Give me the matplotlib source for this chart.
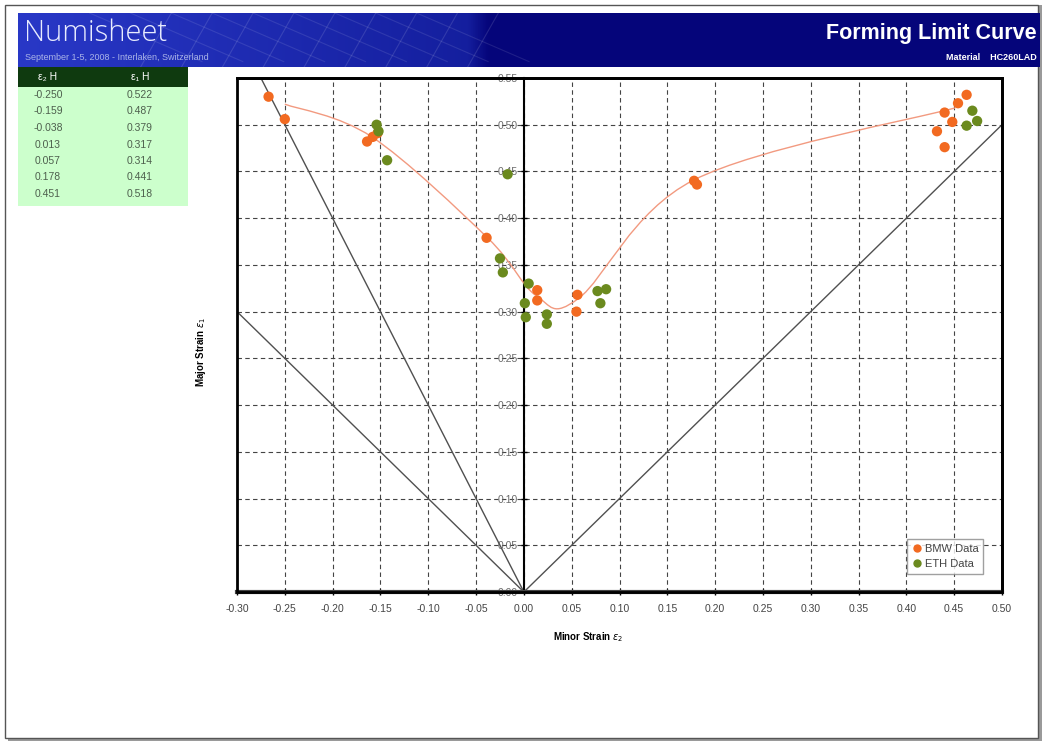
import matplotlib
matplotlib.use('Agg')
import matplotlib.pyplot as plt
import numpy as np
from matplotlib.path import Path
from matplotlib.patches import PathPatch, Rectangle
from matplotlib.lines import Line2D

plt.rcParams['font.family'] = ['Liberation Sans', 'DejaVu Sans']
NARROW = ['Liberation Sans Narrow', 'Liberation Sans', 'DejaVu Sans']

# Forming limit curve (table values)
flc_minor = [-0.250, -0.159, -0.038, 0.013, 0.057, 0.178, 0.451]
flc_major = [0.522, 0.487, 0.379, 0.317, 0.314, 0.441, 0.518]

# BMW measurements
bmw_minor = [-0.267, -0.250, -0.164, -0.158, -0.153, -0.039, 0.014, 0.014,
             0.056, 0.055, 0.178, 0.181, 0.463, 0.454, 0.440, 0.448, 0.432, 0.440]
bmw_major = [0.530, 0.506, 0.482, 0.487, 0.491, 0.379, 0.323, 0.312,
             0.318, 0.300, 0.440, 0.436, 0.532, 0.523, 0.513, 0.503, 0.493, 0.476]

# ETH measurements
eth_minor = [-0.154, -0.152, -0.143, -0.017, -0.025, -0.022, 0.005, 0.001, 0.002,
             0.024, 0.024, 0.077, 0.086, 0.080, 0.469, 0.474, 0.463]
eth_major = [0.500, 0.493, 0.462, 0.447, 0.357, 0.342, 0.330, 0.309, 0.294,
             0.297, 0.287, 0.322, 0.324, 0.309, 0.515, 0.504, 0.499]

# strain path reference lines (major = slope * minor)
ref_slopes = [-1.0, -2.0, 1.0]

x_ticks = np.round(np.arange(-0.30, 0.501, 0.05), 2)
y_ticks = np.round(np.arange(0.0, 0.551, 0.05), 2)


def fmt(v):
    return f'{abs(v):.2f}' if abs(v) < 1e-9 else f'{v:.2f}'


W, H = 1045, 747
fig = plt.figure(figsize=(W / 100, H / 100), dpi=100)
fig.patch.set_facecolor('white')


def fx(px):
    return px / W


def fy(py):
    return 1 - py / H


# page frame with shadow
fig.add_artist(Rectangle((fx(8), fy(741)), fx(1034), 736 / H, transform=fig.transFigure,
                         facecolor='#9a9a9a', edgecolor='none', zorder=0))
fig.add_artist(Rectangle((fx(5), fy(738)), fx(1033), 733 / H, transform=fig.transFigure,
                         facecolor='white', edgecolor='#555555', lw=1.0, zorder=0))

# header banner
ban = fig.add_axes([fx(18), fy(67), fx(1022), 54 / H])
n = 400
t = np.linspace(0, 1, n)
left = np.array([0.16, 0.22, 0.78])
mid = np.array([0.08, 0.12, 0.62])
right = np.array([0.02, 0.02, 0.48])
cols = np.zeros((n, 3))
for i, v in enumerate(t):
    if v < 0.44:
        cols[i] = left + (mid - left) * v / 0.44
    elif v < 0.46:
        cols[i] = mid + (right - mid) * (v - 0.44) / 0.02
    else:
        cols[i] = right
ban.imshow(cols[np.newaxis, :, :], aspect='auto', extent=[0, 1, 0, 1])
for k in np.linspace(0.12, 0.44, 9):
    ban.plot([k, k + 0.03], [0, 1], color='white', alpha=0.12, lw=0.8)
    ban.plot([k - 0.05, k + 0.06], [1, 0.1], color='white', alpha=0.10, lw=0.8)
ban.set_xlim(0, 1)
ban.set_ylim(0, 1)
ban.axis('off')

fig.text(fx(24), fy(33), 'Numisheet', color='#e8ecff', fontsize=21, va='center', ha='left',
         family=['Open Sans', 'DejaVu Sans'], fontweight='light')
fig.text(fx(25), fy(57), 'September 1-5, 2008 - Interlaken, Switzerland', color='#aab4e8',
         fontsize=6.5, va='center', ha='left')
fig.text(fx(1037), fy(34), 'Forming Limit Curve', color='white', fontsize=15.5,
         fontweight='bold', va='center', ha='right')
fig.text(fx(1037), fy(58), 'Material    HC260LAD', color='white', fontsize=6.5,
         fontweight='bold', va='center', ha='right')

# FLC table
fig.add_artist(Rectangle((fx(18), fy(87)), fx(170), 20 / H, transform=fig.transFigure,
                         facecolor='#0f3a0f', edgecolor='none', zorder=1))
fig.add_artist(Rectangle((fx(18), fy(206)), fx(170), 119 / H, transform=fig.transFigure,
                         facecolor='#ccffcc', edgecolor='none', zorder=1))
fig.text(fx(48), fy(77), 'ε₂ H', color='white', fontsize=7.5, ha='center', va='center')
fig.text(fx(140), fy(77), 'ε₁ H', color='white', fontsize=7.5, ha='center', va='center')
for i, (a, b) in enumerate(zip(flc_minor, flc_major)):
    yy = fy(95 + i * 16.5)
    fig.text(fx(48), yy, f'{a:.3f}', color='#4d5f4d', fontsize=7.5, ha='center', va='center', family=NARROW)
    fig.text(fx(140), yy, f'{b:.3f}', color='#4d5f4d', fontsize=7.5, ha='center', va='center', family=NARROW)

# main chart
ax = fig.add_axes([fx(237), fy(592), fx(765), 514 / H])
ax.spines['left'].set_position(('data', 0))
ax.set_xlim(-0.30, 0.50)
ax.set_ylim(0.0, 0.55)
ax.set_xticks(x_ticks)
ax.set_yticks(y_ticks)
ax.set_xticklabels([fmt(v) for v in x_ticks], family=NARROW, fontsize=7.5, color='#444444')
ax.set_yticklabels([fmt(v) for v in y_ticks], family=NARROW, fontsize=7.5, color='#6a6a6a')
ax.grid(True, color='#444444', lw=0.8, ls=(0, (4, 3)))
ax.set_axisbelow(True)

ax.spines['left'].set_linewidth(1.5)
ax.spines['bottom'].set_linewidth(3)
ax.spines['bottom'].set_color('#444444')
for s in ['top', 'right']:
    ax.spines[s].set_linewidth(2)
ax.add_patch(Rectangle((0, 0), 1, 1, transform=ax.transAxes, fill=False, lw=2,
                       edgecolor='black', zorder=5, clip_on=False))
ax.tick_params(axis='both', direction='inout', length=5, width=1, color='black')
ax.tick_params(axis='x', pad=6)
ax.tick_params(axis='y', pad=2)

# reference lines through origin
for s in ref_slopes:
    x_end = -0.30 if s < 0 else 0.50
    if abs(s * x_end) > 0.55:
        x_end = 0.55 / s
    ax.plot([0, x_end], [0, s * x_end], color='#505050', lw=1.0, zorder=2)

# smoothed FLC curve (Excel style bezier)
pts = np.column_stack([flc_minor, flc_major])
ext = np.vstack([pts[0], pts, pts[-1]])
verts = [tuple(pts[0])]
codes = [Path.MOVETO]
for i in range(len(pts) - 1):
    p0, p1, p2, p3 = ext[i], ext[i + 1], ext[i + 2], ext[i + 3]
    c1 = p1 + (p2 - p0) / 6
    c2 = p2 - (p3 - p1) / 6
    verts += [tuple(c1), tuple(c2), tuple(p2)]
    codes += [Path.CURVE4] * 3
ax.add_patch(PathPatch(Path(verts, codes), facecolor='none', edgecolor='#f29a80', lw=1.0, zorder=3))

ax.scatter(bmw_minor, bmw_major, s=55, color='#f26a21', edgecolors='none', zorder=4, label='BMW Data')
ax.scatter(eth_minor, eth_major, s=55, color='#6b8a1e', edgecolors='none', zorder=4, label='ETH Data')

handles = [Line2D([], [], marker='o', ls='none', color='#f26a21', markersize=5),
           Line2D([], [], marker='o', ls='none', color='#6b8a1e', markersize=5)]
leg = ax.legend(handles, ['BMW Data', 'ETH Data'], loc='lower right', bbox_to_anchor=(0.983, 0.025),
                fontsize=8, frameon=True, fancybox=False, edgecolor='#888888', handletextpad=0.2,
                handlelength=1.0, borderpad=0.4, labelspacing=0.5)
leg.get_frame().set_linewidth(1.0)
for txt in leg.get_texts():
    txt.set_color('#444444')

fig.text(fx(588), fy(637), 'Minor Strain $\\varepsilon_2$', fontsize=7, fontweight='bold',
         ha='center', va='center')
fig.text(fx(201), fy(352), 'Major Strain $\\varepsilon_1$', fontsize=7, fontweight='bold',
         ha='center', va='center', rotation=90)

fig.savefig('out.png', dpi=100)
